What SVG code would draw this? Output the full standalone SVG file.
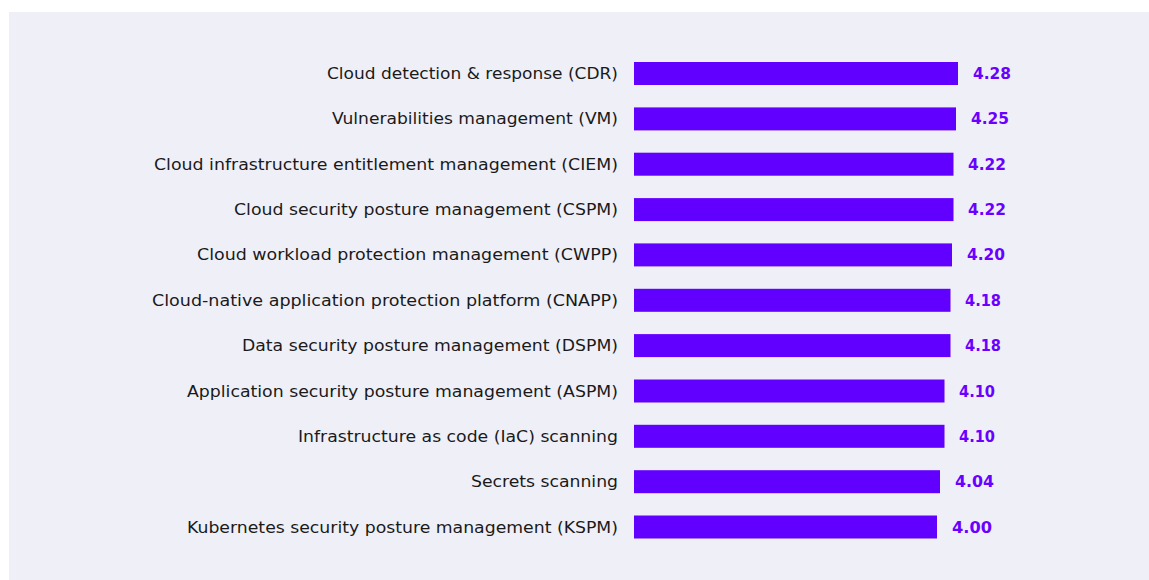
<svg xmlns="http://www.w3.org/2000/svg" width="1149" height="580" viewBox="0 0 1149 580">
<style>
.lbl{font-family:"DejaVu Sans","Liberation Sans",Arial,sans-serif;font-size:16px;fill:#1a1a1a;text-anchor:end}
.val{font-family:"DejaVu Sans","Liberation Sans",Arial,sans-serif;font-size:16px;font-weight:bold;fill:#6a00ff}
.bar{fill:#6200ff}
</style>
<rect x="0" y="0" width="1149" height="580" fill="#ffffff"/>
<rect x="9" y="12" width="1140" height="568" fill="#efeff8"/>
<g id="row1"><text class="lbl" x="618" y="79" textLength="291" lengthAdjust="spacingAndGlyphs">Cloud detection &amp; response (CDR)</text><rect class="bar" x="634" y="62" width="324" height="23"/><text class="val" x="973" y="79" textLength="38" lengthAdjust="spacingAndGlyphs">4.28</text></g>
<g id="row2"><text class="lbl" x="618" y="124.4" textLength="286" lengthAdjust="spacingAndGlyphs">Vulnerabilities management (VM)</text><rect class="bar" x="634" y="107.4" width="322" height="23"/><text class="val" x="971" y="124.4" textLength="38" lengthAdjust="spacingAndGlyphs">4.25</text></g>
<g id="row3"><text class="lbl" x="618" y="169.7" textLength="464" lengthAdjust="spacingAndGlyphs">Cloud infrastructure entitlement management (CIEM)</text><rect class="bar" x="634" y="152.7" width="319.5" height="23"/><text class="val" x="968" y="169.7" textLength="38" lengthAdjust="spacingAndGlyphs">4.22</text></g>
<g id="row4"><text class="lbl" x="618" y="215.1" textLength="384" lengthAdjust="spacingAndGlyphs">Cloud security posture management (CSPM)</text><rect class="bar" x="634" y="198.1" width="319.5" height="23"/><text class="val" x="968" y="215.1" textLength="38" lengthAdjust="spacingAndGlyphs">4.22</text></g>
<g id="row5"><text class="lbl" x="618" y="260.4" textLength="421" lengthAdjust="spacingAndGlyphs">Cloud workload protection management (CWPP)</text><rect class="bar" x="634" y="243.4" width="318" height="23"/><text class="val" x="967" y="260.4" textLength="38" lengthAdjust="spacingAndGlyphs">4.20</text></g>
<g id="row6"><text class="lbl" x="618" y="305.8" textLength="466" lengthAdjust="spacingAndGlyphs">Cloud-native application protection platform (CNAPP)</text><rect class="bar" x="634" y="288.8" width="316.5" height="23"/><text class="val" x="965" y="305.8" textLength="36" lengthAdjust="spacingAndGlyphs">4.18</text></g>
<g id="row7"><text class="lbl" x="618" y="351.1" textLength="376" lengthAdjust="spacingAndGlyphs">Data security posture management (DSPM)</text><rect class="bar" x="634" y="334.1" width="316.5" height="23"/><text class="val" x="965" y="351.1" textLength="36" lengthAdjust="spacingAndGlyphs">4.18</text></g>
<g id="row8"><text class="lbl" x="618" y="396.5" textLength="431" lengthAdjust="spacingAndGlyphs">Application security posture management (ASPM)</text><rect class="bar" x="634" y="379.5" width="310.5" height="23"/><text class="val" x="959" y="396.5" textLength="36" lengthAdjust="spacingAndGlyphs">4.10</text></g>
<g id="row9"><text class="lbl" x="618" y="441.8" textLength="320" lengthAdjust="spacingAndGlyphs">Infrastructure as code (IaC) scanning</text><rect class="bar" x="634" y="424.8" width="310.5" height="23"/><text class="val" x="959" y="441.8" textLength="36" lengthAdjust="spacingAndGlyphs">4.10</text></g>
<g id="row10"><text class="lbl" x="618" y="487.2" textLength="147" lengthAdjust="spacingAndGlyphs">Secrets scanning</text><rect class="bar" x="634" y="470.2" width="306" height="23"/><text class="val" x="955" y="487.2" textLength="39" lengthAdjust="spacingAndGlyphs">4.04</text></g>
<g id="row11"><text class="lbl" x="618" y="532.5" textLength="431" lengthAdjust="spacingAndGlyphs">Kubernetes security posture management (KSPM)</text><rect class="bar" x="634" y="515.5" width="303" height="23"/><text class="val" x="952" y="532.5" textLength="40" lengthAdjust="spacingAndGlyphs">4.00</text></g>
<g id="connectors"/>
</svg>
